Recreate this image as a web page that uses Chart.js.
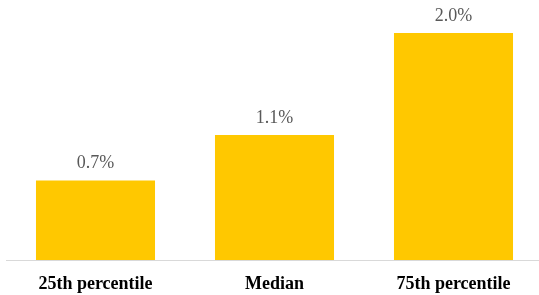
<!DOCTYPE html>
<html>
<head>
<meta charset="utf-8">
<script src="https://cdn.jsdelivr.net/npm/chart.js@4"></script>
<style>
    html, body { margin: 0; padding: 0; background: #fff; overflow: hidden; }
    #wrap { width: 549px; height: 295px; }
</style>
</head>
<body>
<div id="wrap"><canvas id="percentileChart"></canvas></div>
<script>
const categories = ["25th percentile", "Median", "75th percentile"];
const values = [0.7, 1.1, 2.0];
const valueLabels = ["0.7%", "1.1%", "2.0%"];

// draws the value text above each bar
const barLabels = {
    id: "barLabels",
    afterDatasetsDraw(chart) {
        const ctx = chart.ctx;
        ctx.save();
        ctx.font = "18px 'Liberation Serif', serif";
        ctx.fillStyle = "#595959";
        ctx.textAlign = "center";
        ctx.textBaseline = "middle";
        chart.getDatasetMeta(0).data.forEach((bar, i) => {
            ctx.fillText(valueLabels[i], bar.x, bar.y - 17);
        });
        ctx.restore();
    }
};

new Chart(document.getElementById("percentileChart").getContext("2d"), {
    type: "bar",
    data: {
        labels: categories,
        datasets: [{
            data: values,
            backgroundColor: "#FFC800",
            borderWidth: 0,
            categoryPercentage: 1,
            barPercentage: 0.665
        }]
    },
    options: {
        responsive: true,
        maintainAspectRatio: false,
        animation: false,
        layout: { padding: { left: 6, right: 6, top: 0, bottom: 0 } },
        plugins: { legend: { display: false }, tooltip: { enabled: false } },
        scales: {
            x: {
                grid: { display: false },
                border: { display: true, color: "#D9D9D9", width: 1 },
                afterFit(scale) { scale.height = 35; },
                ticks: {
                    color: "#000",
                    padding: 6,
                    font: { family: "'Liberation Serif', serif", size: 18, weight: "bold" }
                }
            },
            y: {
                display: false,
                min: 0,
                max: 2.29
            }
        }
    },
    plugins: [barLabels]
});
</script>
</body>
</html>
